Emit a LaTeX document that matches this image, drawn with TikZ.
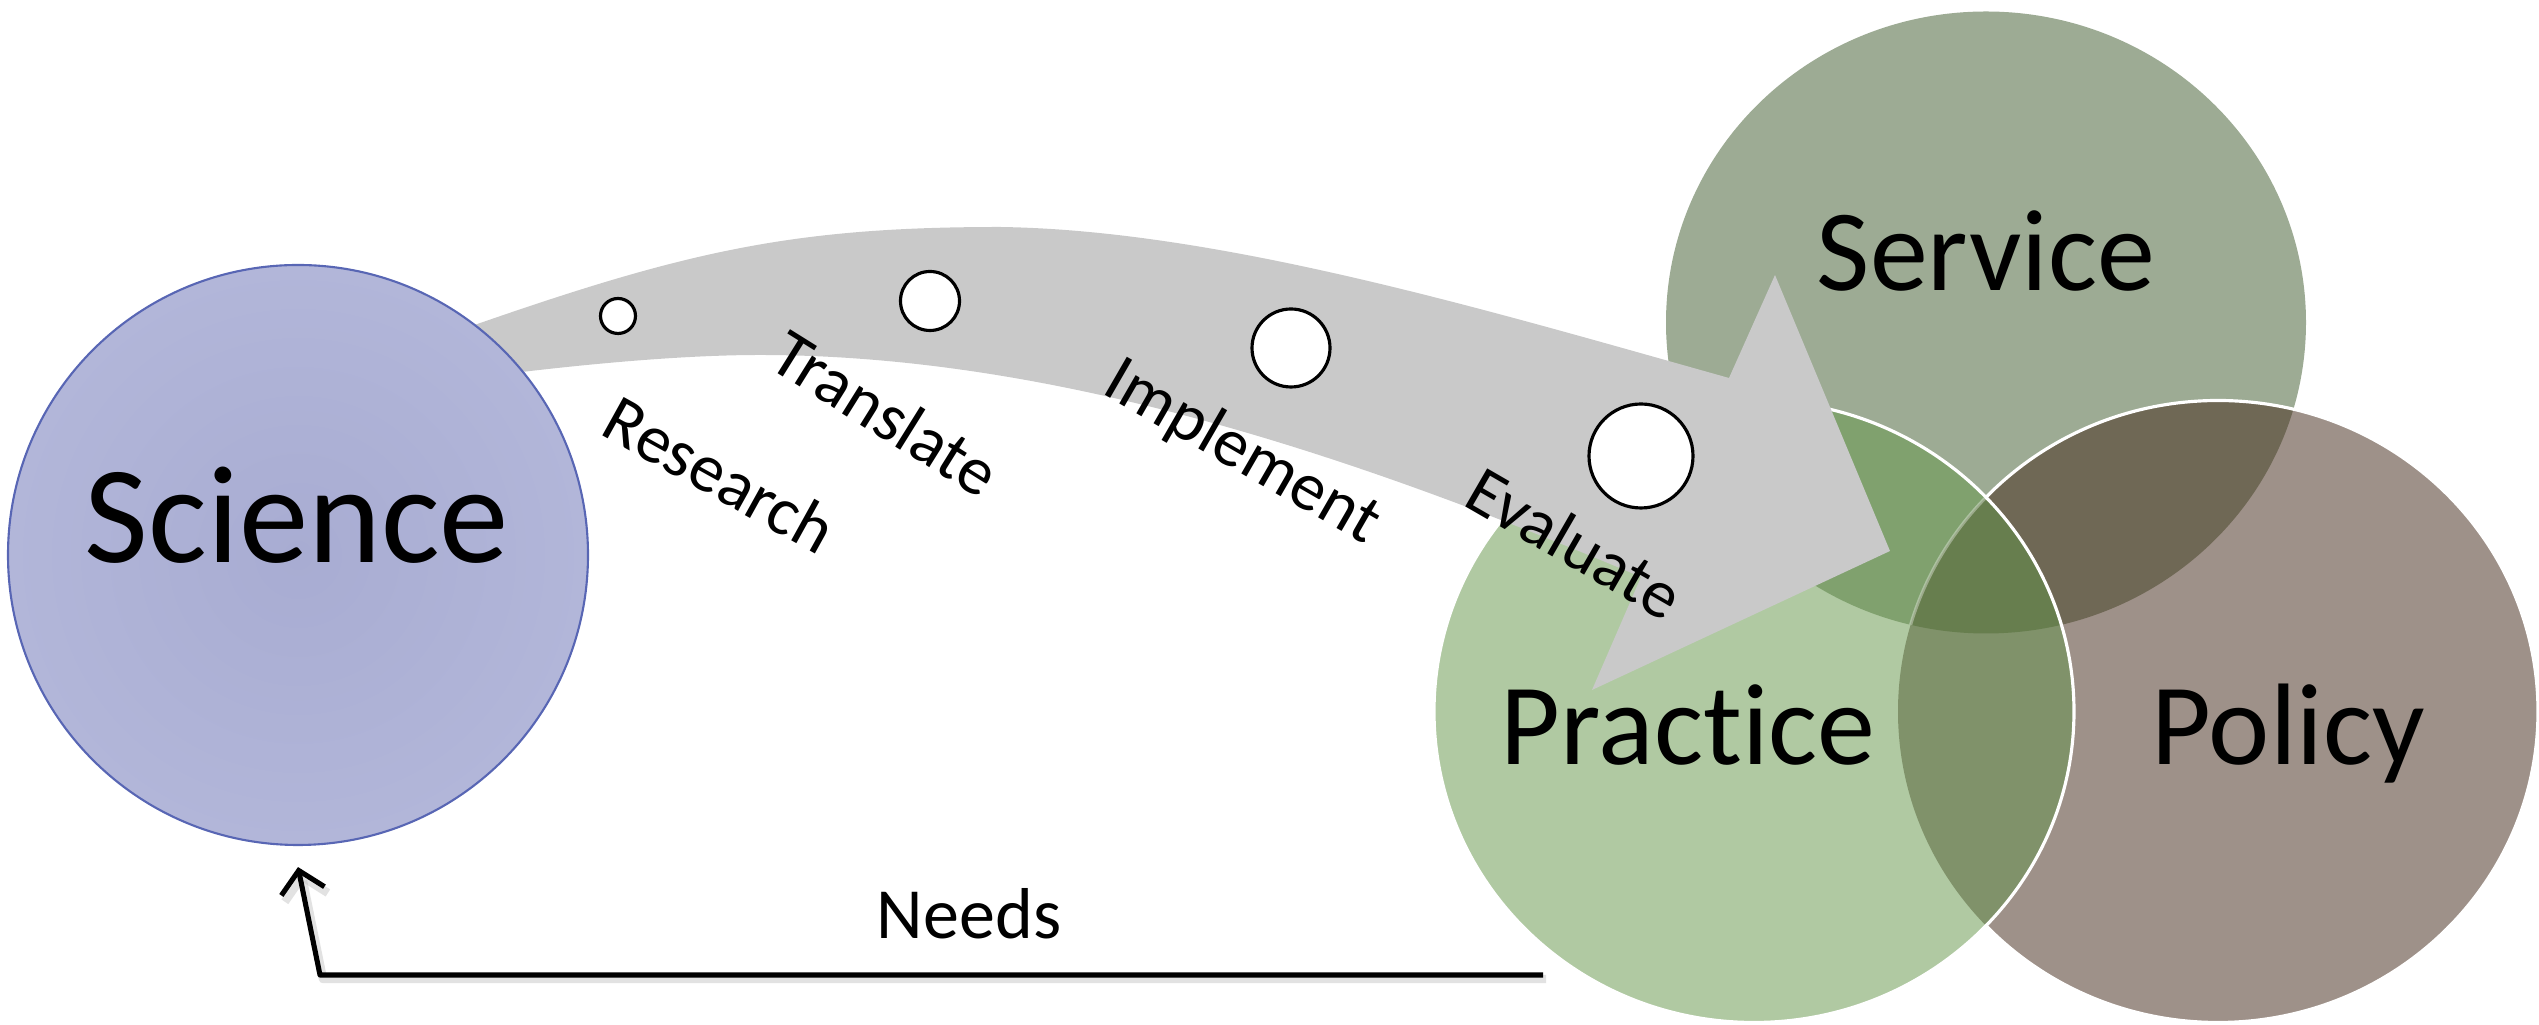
\documentclass[tikz,border=0pt]{standalone}
\usepackage{fontspec}
\setmainfont{Carlito}[Ligatures=NoCommon]
\usetikzlibrary{arrows.meta}
\definecolor{ink}{RGB}{0,0,0}
\definecolor{scienceinner}{RGB}{168,172,210}
\definecolor{sciencefill}{RGB}{178,182,217}
\definecolor{scienceline}{RGB}{88,102,180}
\definecolor{pathgray}{RGB}{201,201,201}
\definecolor{servicefill}{RGB}{157,171,148}
\definecolor{practicefill}{RGB}{176,201,162}
\definecolor{policyfill}{RGB}{158,145,137}
\definecolor{servpract}{RGB}{128,161,110}
\definecolor{servpolicy}{RGB}{111,104,85}
\definecolor{practpolicy}{RGB}{128,146,106}
\definecolor{allthree}{RGB}{103,126,78}

\begin{document}
\begin{tikzpicture}[
  x=1cm,
  y=1cm,
  line join=round,
  sciencedisc/.style={
    circle,
    draw=scienceline,
    inner color=scienceinner,
    outer color=sciencefill,
    line width=0.6pt,
    minimum size=5.80cm,
    inner sep=0pt
  },
  bigtitle/.style={
    font=\fontsize{33}{40}\selectfont,
    text=ink,
    anchor=base,
    inner sep=0pt
  },
  steplabel/.style={
    font=\fontsize{19.5}{23}\selectfont,
    text=ink,
    inner sep=0pt
  },
  stagedot/.style={
    circle,
    draw=ink,
    fill=white,
    line width=0.9pt,
    inner sep=0pt
  },
  vennrim/.style={
    draw=white,
    line width=0.9pt
  },
  needsline/.style={
    -{Straight Barb[length=2.1mm,width=4.4mm]},
    draw=ink,
    line width=1.45pt
  },
  needsshadow/.style={
    -{Straight Barb[length=2.1mm,width=4.4mm]},
    draw=black!25,
    opacity=0.45,
    line width=2.4pt
  }
]

\useasboundingbox (0,0) rectangle (25.39,10.25);

% ---------------------------------------------------------------------------
% Three overlapping circles, each overlap filled with its own tint.
% ---------------------------------------------------------------------------
\fill[servicefill] (19.86,7.025) ellipse [x radius=3.20,y radius=3.11];
\fill[policyfill] (22.18,3.135) ellipse [x radius=3.20,y radius=3.11];
\begin{scope}
  \clip (22.18,3.135) ellipse [x radius=3.20,y radius=3.11];
  \fill[servpolicy] (19.86,7.025) ellipse [x radius=3.20,y radius=3.11];
\end{scope}
\draw[vennrim] (22.18,3.135) ellipse [x radius=3.20,y radius=3.11];

\fill[practicefill] (17.54,3.135) ellipse [x radius=3.20,y radius=3.11];
\begin{scope}
  \clip (17.54,3.135) ellipse [x radius=3.20,y radius=3.11];
  \fill[servpract] (19.86,7.025) ellipse [x radius=3.20,y radius=3.11];
  \fill[practpolicy] (22.18,3.135) ellipse [x radius=3.20,y radius=3.11];
  \clip (22.18,3.135) ellipse [x radius=3.20,y radius=3.11];
  \fill[allthree] (19.86,7.025) ellipse [x radius=3.20,y radius=3.11];
\end{scope}
% faint trace of the policy rim inside the upper overlap
\begin{scope}
  \clip (17.54,3.135) ellipse [x radius=3.20,y radius=3.11];
  \clip (19.86,7.025) ellipse [x radius=3.20,y radius=3.11];
  \draw[vennrim,opacity=0.35] (22.18,3.135) ellipse [x radius=3.20,y radius=3.11];
\end{scope}
\draw[vennrim] (17.54,3.135) ellipse [x radius=3.20,y radius=3.11];

\node[bigtitle] (service) at (19.86,7.34) {Service};
% the kern keeps c and t from joining
\node[bigtitle] (practice) at (16.88,2.60) {Prac\kern0pt tice};
\node[bigtitle] (policy) at (22.88,2.60) {Policy};

% ---------------------------------------------------------------------------
% Widening grey arrow from science out to practice.
% ---------------------------------------------------------------------------
\fill[pathgray] (4.29,6.84)
  .. controls (6.74,7.71) and (7.80,7.98) .. (10.00,7.98)
  .. controls (12.20,7.95) and (14.90,7.14) .. (17.29,6.47)
  -- (17.75,7.50) -- (18.90,4.74) -- (15.92,3.35) -- (16.41,4.48)
  .. controls (13.65,5.65) and (10.60,6.70) .. (7.60,6.70)
  .. controls (6.60,6.70) and (5.30,6.55) .. (4.36,6.42)
  -- cycle;

% Stage markers grow along the arrow.
\node[stagedot,minimum size=0.35cm] (researchdot) at (6.18,7.09) {};
\node[stagedot,minimum size=0.59cm] (translatedot) at (9.30,7.24) {};
\node[stagedot,minimum size=0.78cm] (implementdot) at (12.91,6.77) {};
\node[stagedot,minimum size=1.04cm] (evaluatedot) at (16.41,5.69) {};

\node[steplabel,rotate=-29] (researchlabel) at (7.20,5.51) {Research};
\node[steplabel,rotate=-32] (translatelabel) at (8.86,6.12) {Translate};
\node[steplabel,rotate=-30] (implementlabel) at (12.42,5.72) {Implement};
\node[steplabel,rotate=-30] (evaluatelabel) at (15.75,4.82) {Evaluate};

% ---------------------------------------------------------------------------
% Science disc and the feedback of needs.
% ---------------------------------------------------------------------------
\node[sciencedisc] (science) at (2.98,4.70) {};
\node[bigtitle,font=\fontsize{39.5}{46}\selectfont] (sciencetext)
  at (2.97,4.62) {Science};

\coordinate (needsend) at (15.43,0.50);
\coordinate (needscorner) at (3.20,0.50);
\draw[needsshadow,transform canvas={xshift=0.3mm,yshift=-0.4mm}]
  (needsend) -- (needscorner) -- ([yshift=-2.1mm]science.south);
\draw[needsline]
  (needsend) -- (needscorner) -- ([yshift=-2.1mm]science.south);

\node[bigtitle,font=\fontsize{20.5}{24}\selectfont] (needs)
  at (9.69,0.86) {Needs};

\end{tikzpicture}
\end{document}
